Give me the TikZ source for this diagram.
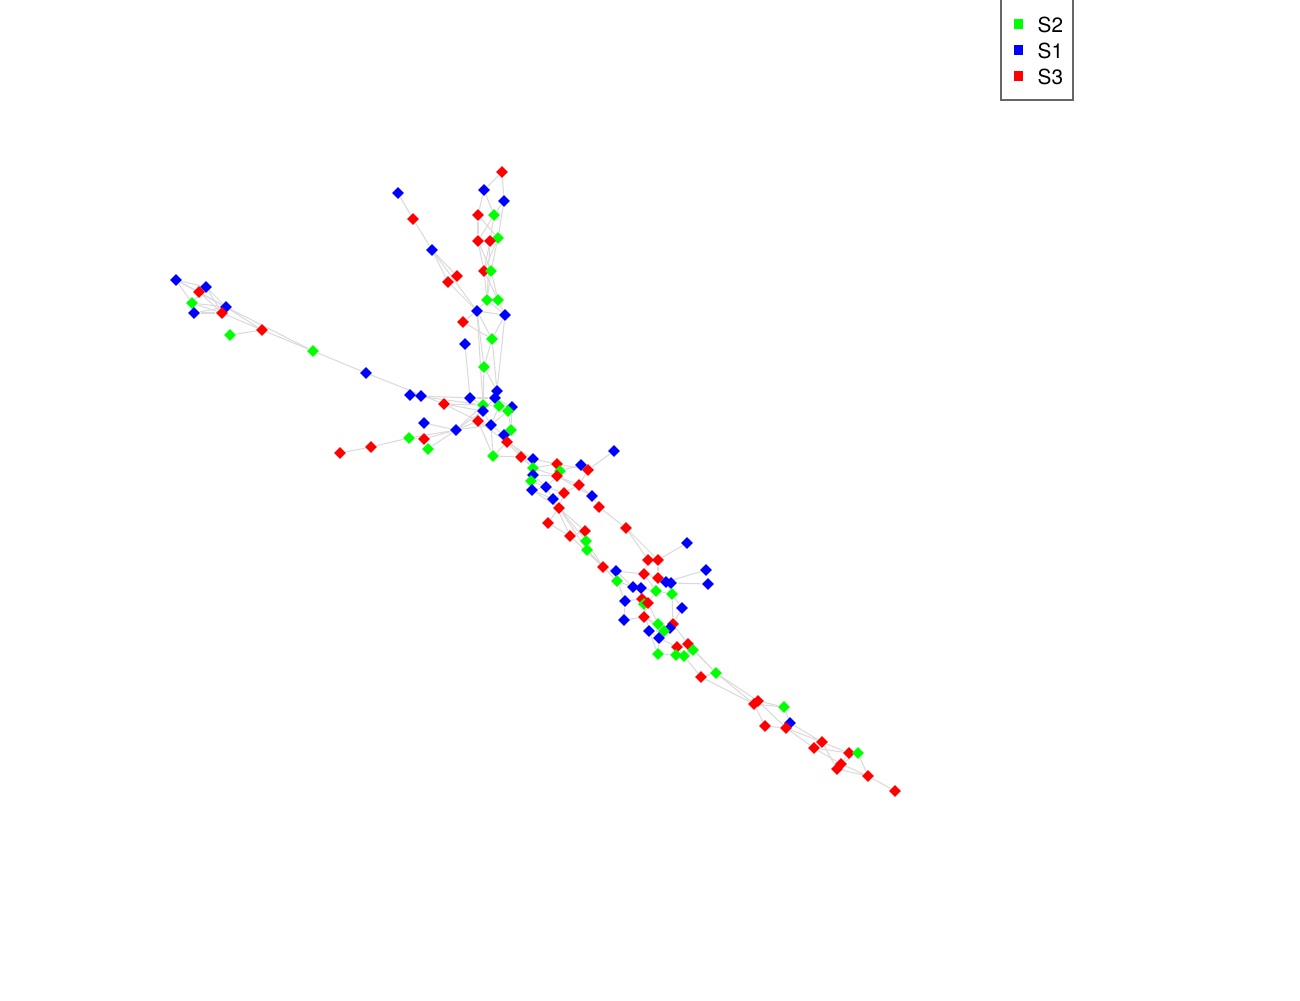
\documentclass[tikz,border=0pt]{standalone}
\usepackage{fontspec}
\setmainfont{TeX Gyre Heros}
\usetikzlibrary{shapes.geometric,backgrounds}
\definecolor{sgreen}{RGB}{0,255,0}
\definecolor{sblue}{RGB}{0,0,255}
\definecolor{sred}{RGB}{255,0,0}
\definecolor{linkgray}{RGB}{218,218,218}
\begin{document}
\begin{tikzpicture}[x=0.01cm, y=-0.01cm,
    vert/.style={diamond, inner sep=0pt, minimum size=0.125cm, draw=none},
    link/.style={linkgray, line width=0.3pt},
    key/.style={inner sep=0pt, minimum size=0.09cm},
    keytext/.style={anchor=west, inner sep=0pt, font=\fontsize{5.9}{6}\selectfont}]
    \useasboundingbox (0,0) rectangle (1300,1000);
    % vertices
    \foreach \n/\x/\y/\c in {
        t1/502/172/sred, t2/484/190/sblue, t3/398/193/sblue, t4/504/201/sblue,
        t5/413/219/sred, t6/478/215/sred, t7/494/215/sgreen, t8/498/238/sgreen,
        t9/478/241/sred, t10/490/241/sred, t11/432/250/sblue, t12/484/271/sred,
        t13/491/271/sgreen, t14/457/276/sred, t15/448/282/sred, t16/487/300/sgreen,
        t17/498/300/sgreen, t18/477/311/sblue, t19/505/315/sblue, t20/463/322/sred,
        t21/492/339/sgreen, t22/465/344/sblue,
        l1/176/280/sblue, l2/206/287/sblue, l3/199/292/sred, l4/192/303/sgreen,
        l5/226/307/sblue, l6/194/313/sblue, l7/222/313/sred, l8/262/330/sred,
        l9/230/335/sgreen, l10/313/351/sgreen, l11/366/373/sblue,
        c1/484/367/sgreen, c2/410/395/sblue, c3/421/396/sblue, c4/444/404/sred,
        c5/470/398/sblue, c6/497/391/sblue, c7/495/398/sblue, c8/483/405/sgreen,
        c9/499/406/sgreen, c10/512/407/sblue, c11/508/411/sgreen, c12/483/411/sblue,
        c13/478/421/sred, c14/424/423/sblue, c15/491/425/sblue, c16/456/430/sblue,
        c17/511/430/sgreen, c18/504/435/sblue, c19/409/438/sgreen, c20/424/439/sred,
        c21/507/442/sred, c22/371/447/sred, c23/428/449/sgreen, c24/340/453/sred,
        c25/493/456/sgreen, c26/521/457/sred,
        m1/533/459/sblue, m2/614/451/sblue, m3/533/468/sgreen, m4/557/464/sred,
        m5/581/465/sblue, m6/560/471/sgreen, m7/588/470/sred, m8/533/475/sblue,
        m9/557/476/sred, m10/531/481/sgreen, m11/579/485/sred, m12/546/487/sblue,
        m13/532/490/sblue, m14/564/493/sred, m15/592/496/sblue, m16/553/499/sblue,
        m17/599/507/sred, m18/559/508/sred, m19/548/523/sred, m20/626/528/sred,
        m21/585/531/sred, m22/570/536/sred, m23/586/541/sgreen, m24/587/550/sgreen,
        m25/687/543/sblue, m26/648/560/sred, m27/658/560/sred, m28/603/567/sred,
        s1/616/571/sblue, s2/706/570/sblue, s3/644/574/sred, s4/658/578/sred,
        s5/617/581/sgreen, s6/666/582/sblue, s7/671/583/sblue, s8/708/584/sblue,
        s9/633/587/sblue, s10/641/588/sblue, s11/656/591/sgreen, s12/672/594/sgreen,
        s13/625/601/sblue, s14/642/599/sred, s15/644/604/sgreen, s16/648/603/sred,
        s17/682/608/sblue, s18/644/617/sred, s19/624/620/sblue, s20/658/624/sgreen,
        s21/673/624/sred, s22/670/628/sblue, s23/664/631/sgreen, s24/649/631/sblue,
        s25/659/638/sblue, s26/688/644/sred, s27/677/647/sred, s28/693/650/sgreen,
        s29/658/654/sgreen, s30/676/655/sgreen, s31/684/656/sgreen, s32/701/677/sred,
        s33/716/673/sgreen,
        e1/754/704/sred, e2/758/701/sred, e3/784/707/sgreen, e4/765/726/sred,
        e5/790/723/sblue, e6/786/728/sred, e7/822/742/sred, e8/814/748/sred,
        e9/849/753/sred, e10/858/753/sgreen, e11/837/769/sred, e12/841/764/sred,
        e13/868/776/sred, e14/895/791/sred}
        \node[vert, fill=\c] (\n) at (\x,\y) {};
    % links
    \begin{scope}[on background layer]
    \foreach \a/\b in {
        t1/t2, t1/t4, t2/t6, t2/t7, t4/t7, t4/t8, t3/t5, t5/t11, t11/t14, t11/t15,
        t11/t18, t15/t18, t6/t9, t6/t8, t7/t10, t7/t9, t9/t12, t9/t13, t10/t12,
        t10/t16, t8/t13, t8/t12, t12/t16, t12/t17, t13/t16, t13/t17, t16/t18,
        t17/t19, t16/t19, t18/t19, t18/t20, t20/t21, t18/t21, t19/t21, t18/c1,
        t21/c1, t22/c5, t21/c6, t18/c8, t19/c6,
        l1/l2, l1/l3, l1/l4, l1/l5, l2/l7, l2/l5, l3/l5, l3/l7, l4/l7, l4/l5,
        l6/l7, l6/l5, l2/l4, l5/l8, l7/l8, l8/l9, l5/l10, l8/l10, l10/l11, l11/c4,
        c2/c3, c3/c5, c2/c8, c4/c13, c4/c8, c4/c12, c14/c16, c16/c13, c16/c8,
        c16/c15, c19/c16, c20/c16, c22/c19, c24/c22, c23/c16, c19/c20, c16/c12,
        c1/c8, c1/c6, c5/c8, c5/c7, c6/c9, c7/c12, c8/c9, c9/c10, c9/c11, c10/c11,
        c11/c15, c12/c15, c13/c15, c15/c18, c17/c18, c17/c10, c18/c21, c21/c26,
        c25/c21, c25/c26, c21/m1, c26/m1, c26/m3, c13/c21, c15/c25, c11/c17,
        c9/c15, c7/c10, c13/c25, c18/m3,
        m1/m3, m3/m8, m8/m10, m10/m13, m12/m13, m12/m16, m4/m6, m4/m9, m6/m9,
        m5/m7, m2/m7, m7/m11, m9/m11, m11/m14, m14/m16, m14/m18, m15/m17, m17/m20,
        m20/m26, m20/m27, m16/m18, m18/m19, m19/m22, m18/m21, m21/m22, m21/m23,
        m23/m24, m24/m28, m22/m28, m25/m27, m26/m27, m3/m4, m1/m4, m8/m9, m10/m12,
        m12/m14, m6/m5, m9/m12, m13/m16, m16/m24, m18/m23, m15/m11, m4/m7, m9/m15,
        m1/m10, m16/m22, m13/m18, m3/m9, m8/m12, m24/s5, m23/m28,
        m28/s1, m28/s5, s1/s3, s3/s4, s4/s6, s4/s7, s6/s2, s7/s8, m27/s4, m26/s3,
        s5/s9, s5/s13, s9/s10, s10/s11, s10/s14, s11/s12, s12/s17, s13/s19, s13/s14,
        s14/s16, s15/s16, s16/s18, s18/s19, s18/s20, s20/s22, s21/s22, s22/s23,
        s23/s24, s24/s25, s20/s25, s25/s27, s26/s28, s27/s30, s28/s31, s30/s31,
        s29/s25, s24/s29, s21/s26, s26/s33, s28/s33, s32/s33, s31/s32, s17/s21,
        s12/s21, s11/s16, s6/s12, s10/s15, s1/s9, s3/s11, s16/s20, s14/s24,
        s18/s23, s27/s31, s29/s30,
        s33/e1, s33/e2, s32/e1, e1/e3, e2/e3, e1/e4, e2/e6, e3/e5, e4/e6, e5/e6,
        e5/e7, e6/e8, e6/e7, e7/e9, e8/e9, e7/e11, e8/e12, e9/e10, e10/e12,
        e10/e13, e11/e13, e12/e13, e13/e14, e9/e11}
        \draw[link] (\a) -- (\b);
    \end{scope}
    % legend
    \draw[gray!80!black, line width=0.35pt] (1001,-2) -- (1001,100) -- (1073,100) -- (1073,-2);
    \node[key, fill=sgreen] (k2) at (1018,24) {};
    \node[key, fill=sblue] (k1) at (1018,50) {};
    \node[key, fill=sred] (k3) at (1018,76) {};
    \node[keytext] at (1037,25) {S2};
    \node[keytext] at (1037,51) {S1};
    \node[keytext] at (1037,77) {S3};
\end{tikzpicture}
\end{document}
